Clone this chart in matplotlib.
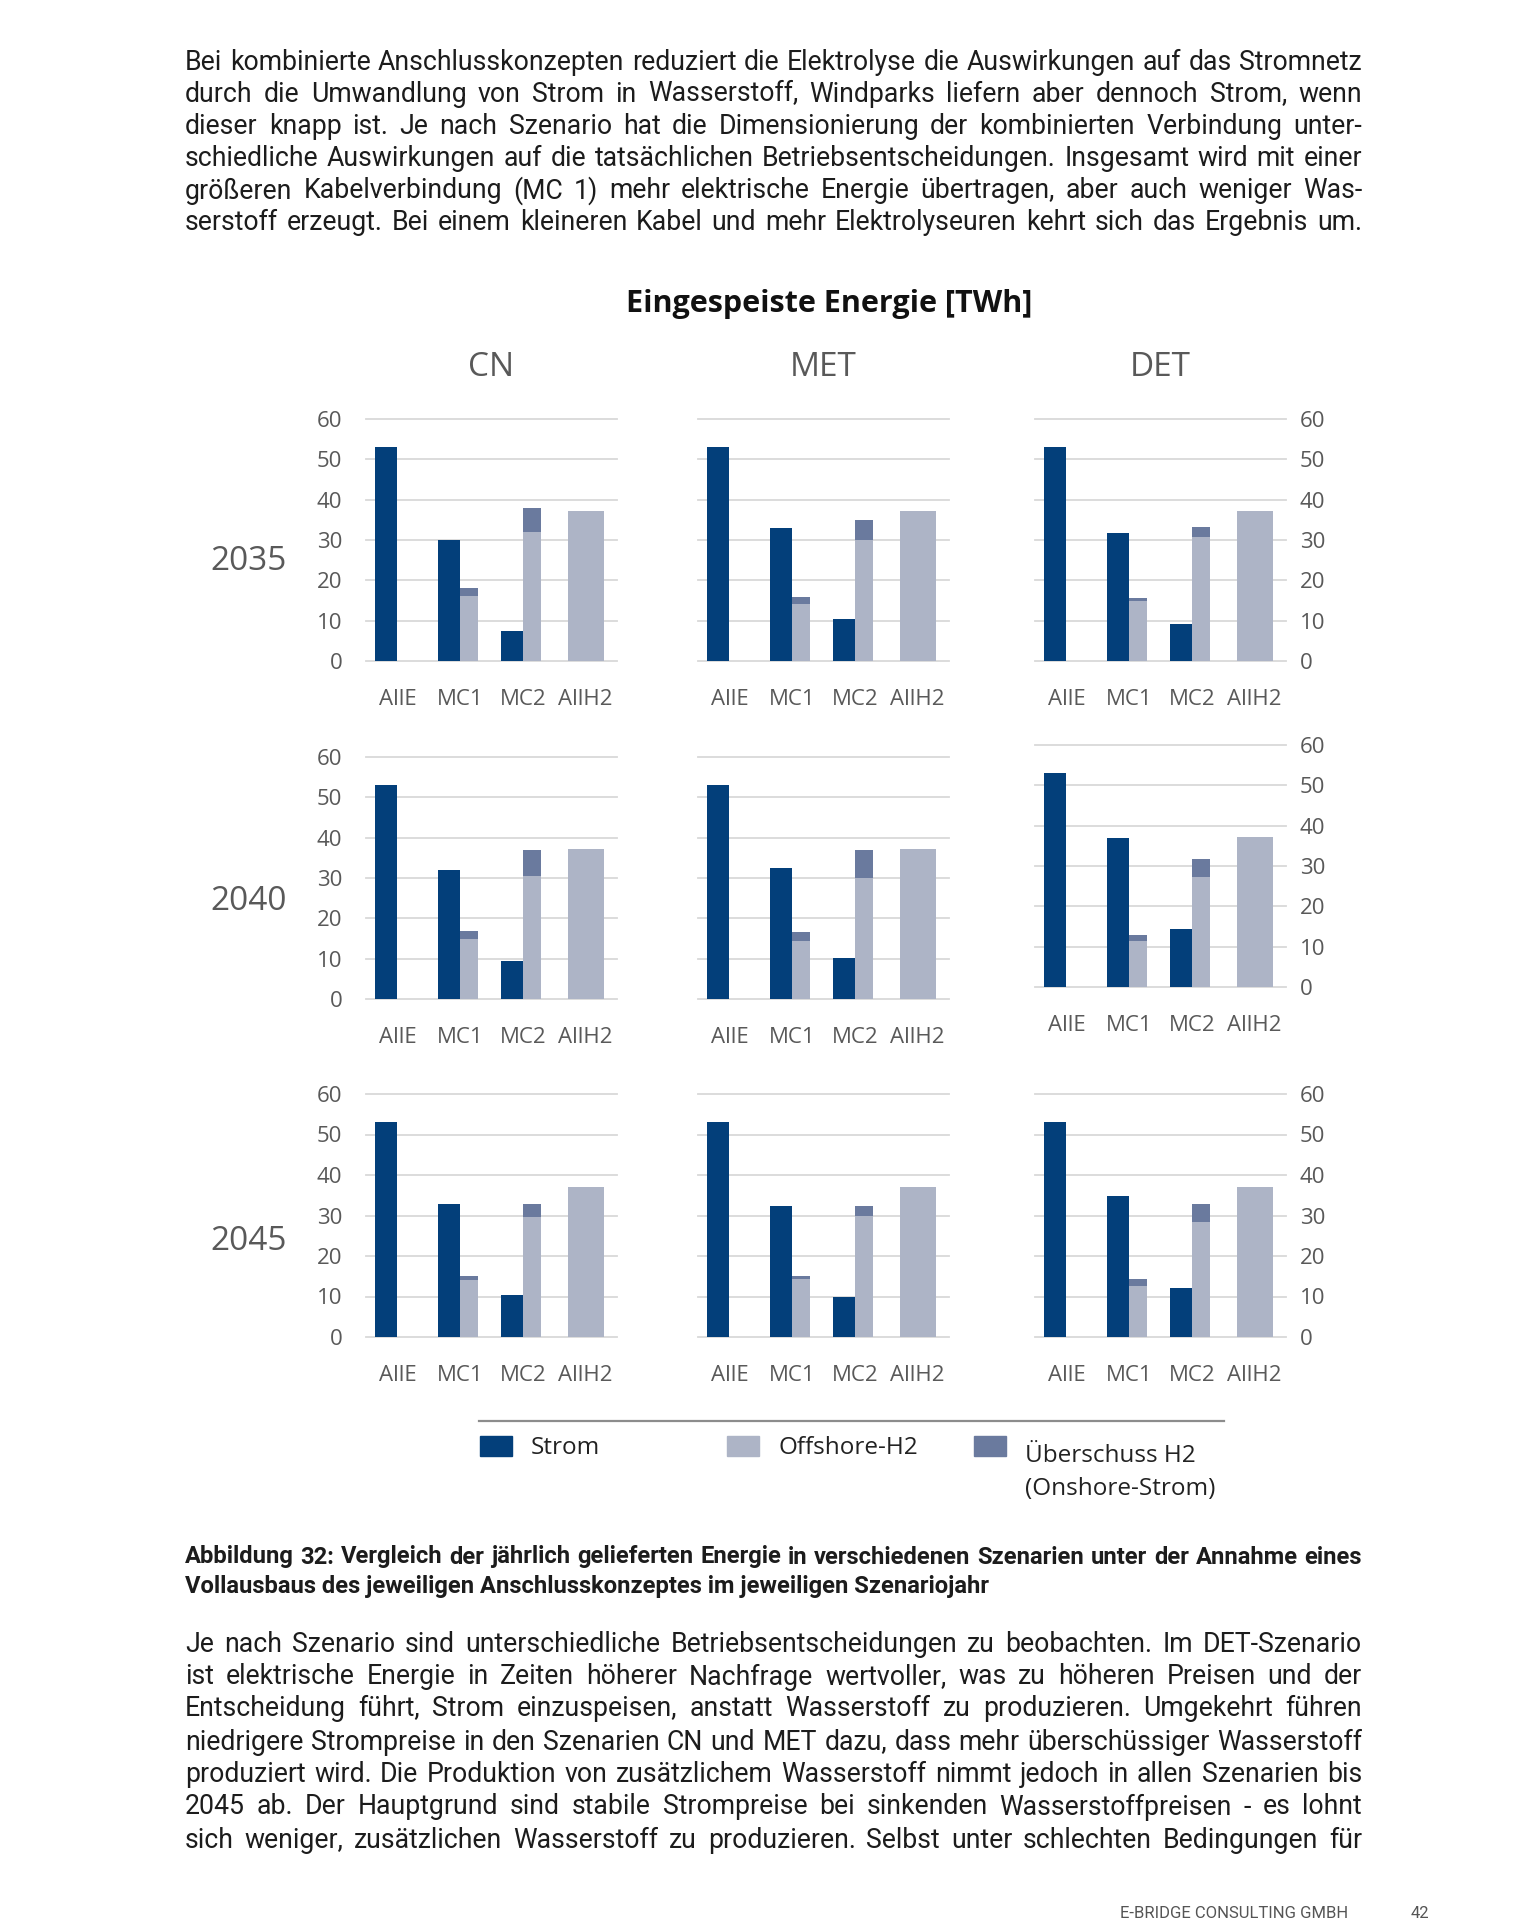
import matplotlib
matplotlib.use("Agg")
import matplotlib.pyplot as plt
from matplotlib.patches import Rectangle
from matplotlib.lines import Line2D
import numpy as np

# --- data (TWh) ---
scenarios = ["CN", "MET", "DET"]
years = ["2035", "2040", "2045"]
categories = ["AllE", "MC1", "MC2", "AllH2"]

strom = {
    "2035": {"CN": [53.1, 30.0, 7.4, 0], "MET": [53.1, 32.9, 10.3, 0], "DET": [53.1, 31.8, 9.1, 0]},
    "2040": {"CN": [53.1, 31.9, 9.5, 0], "MET": [53.1, 32.5, 10.1, 0], "DET": [53.1, 36.9, 14.5, 0]},
    "2045": {"CN": [53.0, 32.8, 10.3, 0], "MET": [53.0, 32.4, 9.9, 0], "DET": [53.0, 34.7, 12.1, 0]},
}
offshore_h2 = {
    "2035": {"CN": [0, 16.1, 32.0, 37.2], "MET": [0, 14.1, 30.0, 37.2], "DET": [0, 14.8, 30.8, 37.2]},
    "2040": {"CN": [0, 14.8, 30.4, 37.1], "MET": [0, 14.4, 30.0, 37.1], "DET": [0, 11.3, 27.2, 37.2]},
    "2045": {"CN": [0, 14.0, 29.7, 37.0], "MET": [0, 14.2, 29.9, 37.0], "DET": [0, 12.6, 28.3, 37.0]},
}
surplus_h2 = {
    "2035": {"CN": [0, 2.1, 6.0, 0], "MET": [0, 1.8, 4.9, 0], "DET": [0, 0.9, 2.5, 0]},
    "2040": {"CN": [0, 2.0, 6.5, 0], "MET": [0, 2.3, 6.9, 0], "DET": [0, 1.7, 4.6, 0]},
    "2045": {"CN": [0, 1.0, 3.1, 0], "MET": [0, 0.9, 2.5, 0], "DET": [0, 1.6, 4.5, 0]},
}
legend_labels = ["Strom", "Offshore-H2", "Überschuss H2\n(Onshore-Strom)"]

para1 = [
    "Bei kombinierte Anschlusskonzepten reduziert die Elektrolyse die Auswirkungen auf das Stromnetz",
    "durch die Umwandlung von Strom in Wasserstoff, Windparks liefern aber dennoch Strom, wenn",
    "dieser knapp ist. Je nach Szenario hat die Dimensionierung der kombinierten Verbindung unter-",
    "schiedliche Auswirkungen auf die tatsächlichen Betriebsentscheidungen. Insgesamt wird mit einer",
    "größeren Kabelverbindung (MC 1) mehr elektrische Energie übertragen, aber auch weniger Was-",
    "serstoff erzeugt. Bei einem kleineren Kabel und mehr Elektrolyseuren kehrt sich das Ergebnis um.",
]
caption = [
    "Abbildung 32: Vergleich der jährlich gelieferten Energie in verschiedenen Szenarien unter der Annahme eines",
    "Vollausbaus des jeweiligen Anschlusskonzeptes im jeweiligen Szenariojahr",
]
para2 = [
    "Je nach Szenario sind unterschiedliche Betriebsentscheidungen zu beobachten. Im DET-Szenario",
    "ist elektrische Energie in Zeiten höherer Nachfrage wertvoller, was zu höheren Preisen und der",
    "Entscheidung führt, Strom einzuspeisen, anstatt Wasserstoff zu produzieren. Umgekehrt führen",
    "niedrigere Strompreise in den Szenarien CN und MET dazu, dass mehr überschüssiger Wasserstoff",
    "produziert wird. Die Produktion von zusätzlichem Wasserstoff nimmt jedoch in allen Szenarien bis",
    "2045 ab. Der Hauptgrund sind stabile Strompreise bei sinkenden Wasserstoffpreisen - es lohnt",
    "sich weniger, zusätzlichen Wasserstoff zu produzieren. Selbst unter schlechten Bedingungen für",
]

# colours
C_STROM = "#033f7a"
C_OFF = "#adb4c6"
C_SUR = "#6a7a9e"
C_GRID = "#d9d9d9"
C_LABEL = "#595959"
C_BODY = "#1c1c1c"

CHART_FONT = ["Open Sans", "DejaVu Sans"]
BODY_FONT = ["Roboto", "DejaVu Sans"]

W, H = 1540, 1920
fig = plt.figure(figsize=(W / 100, H / 100), dpi=100)
fig.patch.set_facecolor("white")


def fx(x):
    return x / W


def fy(y):
    return 1 - y / H


renderer = fig.canvas.get_renderer()


def text_width(s, **kw):
    t = fig.text(0, 0, s, **kw)
    w = t.get_window_extent(renderer).width
    t.remove()
    return w


def block(lines, x0, x1, ys, base_size, weight="normal", justify=None):
    # fit the font size so the widest line fits, then justify word by word
    widest = max(text_width(l, family=BODY_FONT, size=base_size, weight=weight) for l in lines)
    size = min(base_size, base_size * (x1 - x0) * 0.99 / widest)
    if justify is None:
        justify = [True] * len(lines)
    for line, y, jus in zip(lines, ys, justify):
        kw = dict(family=BODY_FONT, size=size, weight=weight, color=C_BODY, va="center")
        if not jus:
            fig.text(fx(x0), fy(y), line, ha="left", **kw)
            continue
        words = line.split()
        widths = [text_width(w, **kw) for w in words]
        gap = (x1 - x0 - sum(widths)) / (len(words) - 1)
        x = x0
        for w, ww in zip(words, widths):
            fig.text(fx(x), fy(y), w, ha="left", **kw)
            x += ww + gap


# --- text above and below the chart ---
block(para1, 185, 1362, [62, 94, 126, 158, 191, 223], 24)
block(caption, 185, 1362, [1557, 1586], 24, weight="bold", justify=[True, False])
block(para2, 185, 1362, [1645, 1677, 1709, 1742, 1775, 1807, 1840], 24)

fig.text(fx(1348), fy(1913), "E-BRIDGE CONSULTING GMBH", ha="right", va="center",
         family=BODY_FONT, size=12, color="#555555")
fig.text(fx(1420), fy(1913), "42", ha="center", va="center",
         family=BODY_FONT, size=12, color="#555555")

# --- chart titles ---
fig.text(fx(829), fy(304), "Eingespeiste Energie [TWh]", ha="center", va="center",
         family=CHART_FONT, size=22, weight="bold", color="#111111")

col_x = {"CN": (366, 617), "MET": (698, 949), "DET": (1035, 1286)}
row_y = {"2035": (419, 661), "2040": (757, 999), "2045": (1094, 1337)}
row_label_y = {"2035": 562, "2040": 901, "2045": 1241}

for sc in scenarios:
    x0, x1 = col_x[sc]
    fig.text(fx((x0 + x1) / 2), fy(367), sc, ha="center", va="center",
             family=CHART_FONT, size=24, color=C_LABEL)

for yr in years:
    fig.text(fx(249), fy(row_label_y[yr]), yr, ha="center", va="center",
             family=CHART_FONT, size=24, color=C_LABEL)

# --- the nine panels ---
x = np.arange(len(categories))
h2_left = np.array([0.0, 1.0, 2.0, 3.0 - 0.275])
h2_width = np.array([0.285, 0.285, 0.285, 0.57])

for yr in years:
    for sc in scenarios:
        x0, x1 = col_x[sc]
        y0, y1 = row_y[yr]
        if sc == "DET" and yr == "2040":
            y0, y1 = y0 - 12, y1 - 12
        ax = fig.add_axes([fx(x0), fy(y1), (x1 - x0) / W, (y1 - y0) / H])
        ax.set_facecolor("none")

        for g in range(0, 61, 10):
            ax.axhline(g, color=C_GRID, lw=1.3, zorder=1, clip_on=False)

        off = np.array(offshore_h2[yr][sc])
        ax.bar(x - 0.355, strom[yr][sc], width=0.355, align="edge", color=C_STROM, zorder=2)
        ax.bar(h2_left, off, width=h2_width, align="edge", color=C_OFF, zorder=2)
        ax.bar(h2_left, surplus_h2[yr][sc], bottom=off, width=h2_width, align="edge",
               color=C_SUR, zorder=2)

        ax.set_xlim(-0.5, 3.5)
        ax.set_ylim(0, 60)
        for s in ax.spines.values():
            s.set_visible(False)

        ax.set_xticks(x)
        ax.set_xticklabels(categories, family=CHART_FONT, size=16, color=C_LABEL)
        ax.tick_params(axis="x", length=0, pad=20)

        ax.set_yticks(range(0, 61, 10))
        if sc == "CN":
            ax.tick_params(axis="y", length=0, pad=17, labelsize=16, labelcolor=C_LABEL)
        elif sc == "DET":
            ax.yaxis.tick_right()
            ax.tick_params(axis="y", length=0, pad=10, labelsize=16, labelcolor=C_LABEL)
        else:
            ax.tick_params(axis="y", length=0, labelleft=False)
        for lab in ax.get_yticklabels():
            lab.set_family(CHART_FONT)

# --- legend ---
fig.add_artist(Line2D([fx(479), fx(1224)], [fy(1421), fy(1421)], color="#8c8c8c", lw=1.6))
legend_colors = [C_STROM, C_OFF, C_SUR]
legend_x = [480, 727, 974]
for lab, col, lx in zip(legend_labels, legend_colors, legend_x):
    fig.add_artist(Rectangle((fx(lx), fy(1456)), 32 / W, 20 / H, transform=fig.transFigure,
                             color=col))
    for k, part in enumerate(lab.split("\n")):
        ty = 1448 if k == 0 and "\n" not in lab else 1456 + 33 * k
        fig.text(fx(lx + 51), fy(ty), part, ha="left", va="center",
                 family=CHART_FONT, size=17.5, color="#222222")

fig.savefig("out.png", dpi=100, facecolor="white")
